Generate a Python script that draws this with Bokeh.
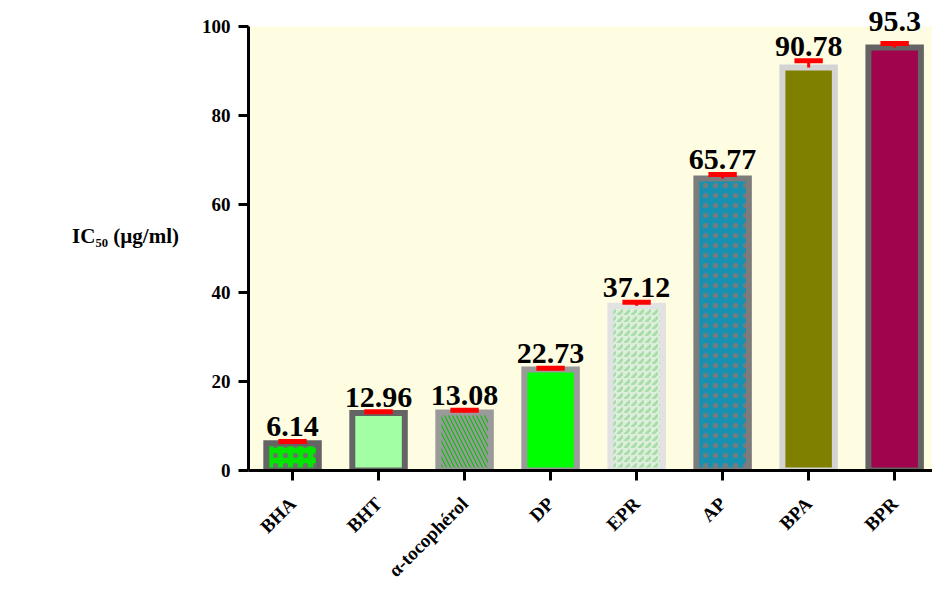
import math
from bokeh.plotting import figure
from bokeh.models import ColumnDataSource, Range1d, FixedTicker, LabelSet, BoxAnnotation
from bokeh.embed import file_html
from bokeh.resources import INLINE

# ---- data ----
categories = ["BHA", "BHT", "α-tocophérol", "DP", "EPR", "AP", "BPA", "BPR"]
values = [6.14, 12.96, 13.08, 22.73, 37.12, 65.77, 90.78, 95.3]
errors = [0.4, 0.3, 0.5, 0.3, 0.8, 0.9, 1.5, 0.9]
value_labels = ["6.14", "12.96", "13.08", "22.73", "37.12", "65.77", "90.78", "95.3"]
y_ticks = [0, 20, 40, 60, 80, 100]
y_max = 100

# ---- styles ----
fill_colors = ["#00E600", "#A3FFA3", "#00C000", "#00FF00", "#DDEEDD", "#1890B0", "#808000", "#A0044C"]
line_colors = ["#646464", "#646464", "#9A9A9A", "#9A9A9A", "#E2E2E2", "#7C7C7C", "#D4D4D4", "#646464"]
hatch_patterns = ["dot", " ", "left_diagonal_line", " ", "right_diagonal_dash", "dot", " ", " "]
hatch_colors = ["#6E6E6E", "#707070", "#9A9A9A", "#707070", "#A8DDA8", "#7A7A7A", "#707070", "#707070"]
hatch_weights = [1, 1, 2.5, 1, 3, 1, 1, 1]
hatch_scales = [10, 10, 8, 10, 7, 10, 10, 10]
label_offsets = [5, 5, 5, 5, 5, 5, 5, 12]

xs = list(range(len(categories)))
tops = [v + e for v, e in zip(values, errors)]
cap_w = 0.165

src = ColumnDataSource(dict(
    x=xs, top=values, err_top=tops,
    cap_l=[x - cap_w for x in xs], cap_r=[x + cap_w for x in xs],
    fill=fill_colors, line=line_colors, hatch=hatch_patterns, hcol=hatch_colors,
    hw=hatch_weights, hs=hatch_scales, lbl=value_labels, yoff=label_offsets,
))

FONT = "Liberation Serif"

p = figure(width=932, height=610, output_backend="svg", toolbar_location=None,
           x_range=Range1d(-0.512, 7.44), y_range=Range1d(0, 105.86),
           min_border_left=248, min_border_right=0, min_border_top=0, min_border_bottom=140)
p.background_fill_color = "white"
p.border_fill_color = "white"
p.outline_line_color = None
p.grid.visible = False

p.add_layout(BoxAnnotation(bottom=0, top=y_max, fill_color="#FFFDE1", fill_alpha=1,
                           line_color=None, level="underlay"))

p.vbar(x="x", top="top", bottom=0, width=0.61, source=src,
       fill_color="fill", line_color="line", line_width=6, line_join="miter",
       hatch_pattern="hatch", hatch_color="hcol", hatch_weight="hw", hatch_scale="hs")

# error bars
p.segment(x0="x", y0="top", x1="x", y1="err_top", source=src, line_color="red", line_width=3)
p.segment(x0="cap_l", y0="err_top", x1="cap_r", y1="err_top", source=src, line_color="red", line_width=5)

labels = LabelSet(x="x", y="err_top", text="lbl", source=src, y_offset="yoff",
                  text_align="center", text_baseline="alphabetic",
                  text_font=FONT, text_font_style="bold", text_font_size="30px",
                  text_color="black")
p.add_layout(labels)

# axes
p.xaxis.ticker = FixedTicker(ticks=xs)
p.xaxis.major_label_overrides = {i: c for i, c in enumerate(categories)}
p.xaxis.major_label_orientation = math.pi / 4
p.yaxis.ticker = FixedTicker(ticks=y_ticks)
p.yaxis.bounds = (0, y_max)
for ax in (p.xaxis, p.yaxis):
    ax.axis_line_width = 3
    ax.axis_line_color = "black"
    ax.major_tick_line_width = 3
    ax.major_tick_line_color = "black"
    ax.major_tick_out = 10
    ax.major_tick_in = 0
    ax.minor_tick_line_color = None
    ax.major_label_text_font = FONT
    ax.major_label_text_font_style = "bold"
    ax.major_label_text_color = "black"
p.yaxis.major_label_text_font_size = "19px"
p.yaxis.major_label_standoff = 8
p.xaxis.major_label_text_font_size = "19px"
p.xaxis.major_label_standoff = 20

p.yaxis.axis_label = "IC₅₀ (µg/ml)"
p.yaxis.axis_label_orientation = "horizontal"
p.yaxis.axis_label_text_font = FONT
p.yaxis.axis_label_text_font_style = "bold"
p.yaxis.axis_label_text_font_size = "21px"
p.yaxis.axis_label_text_color = "black"
p.yaxis.axis_label_standoff = 20

open("out.html", "w").write(file_html(p, INLINE))
